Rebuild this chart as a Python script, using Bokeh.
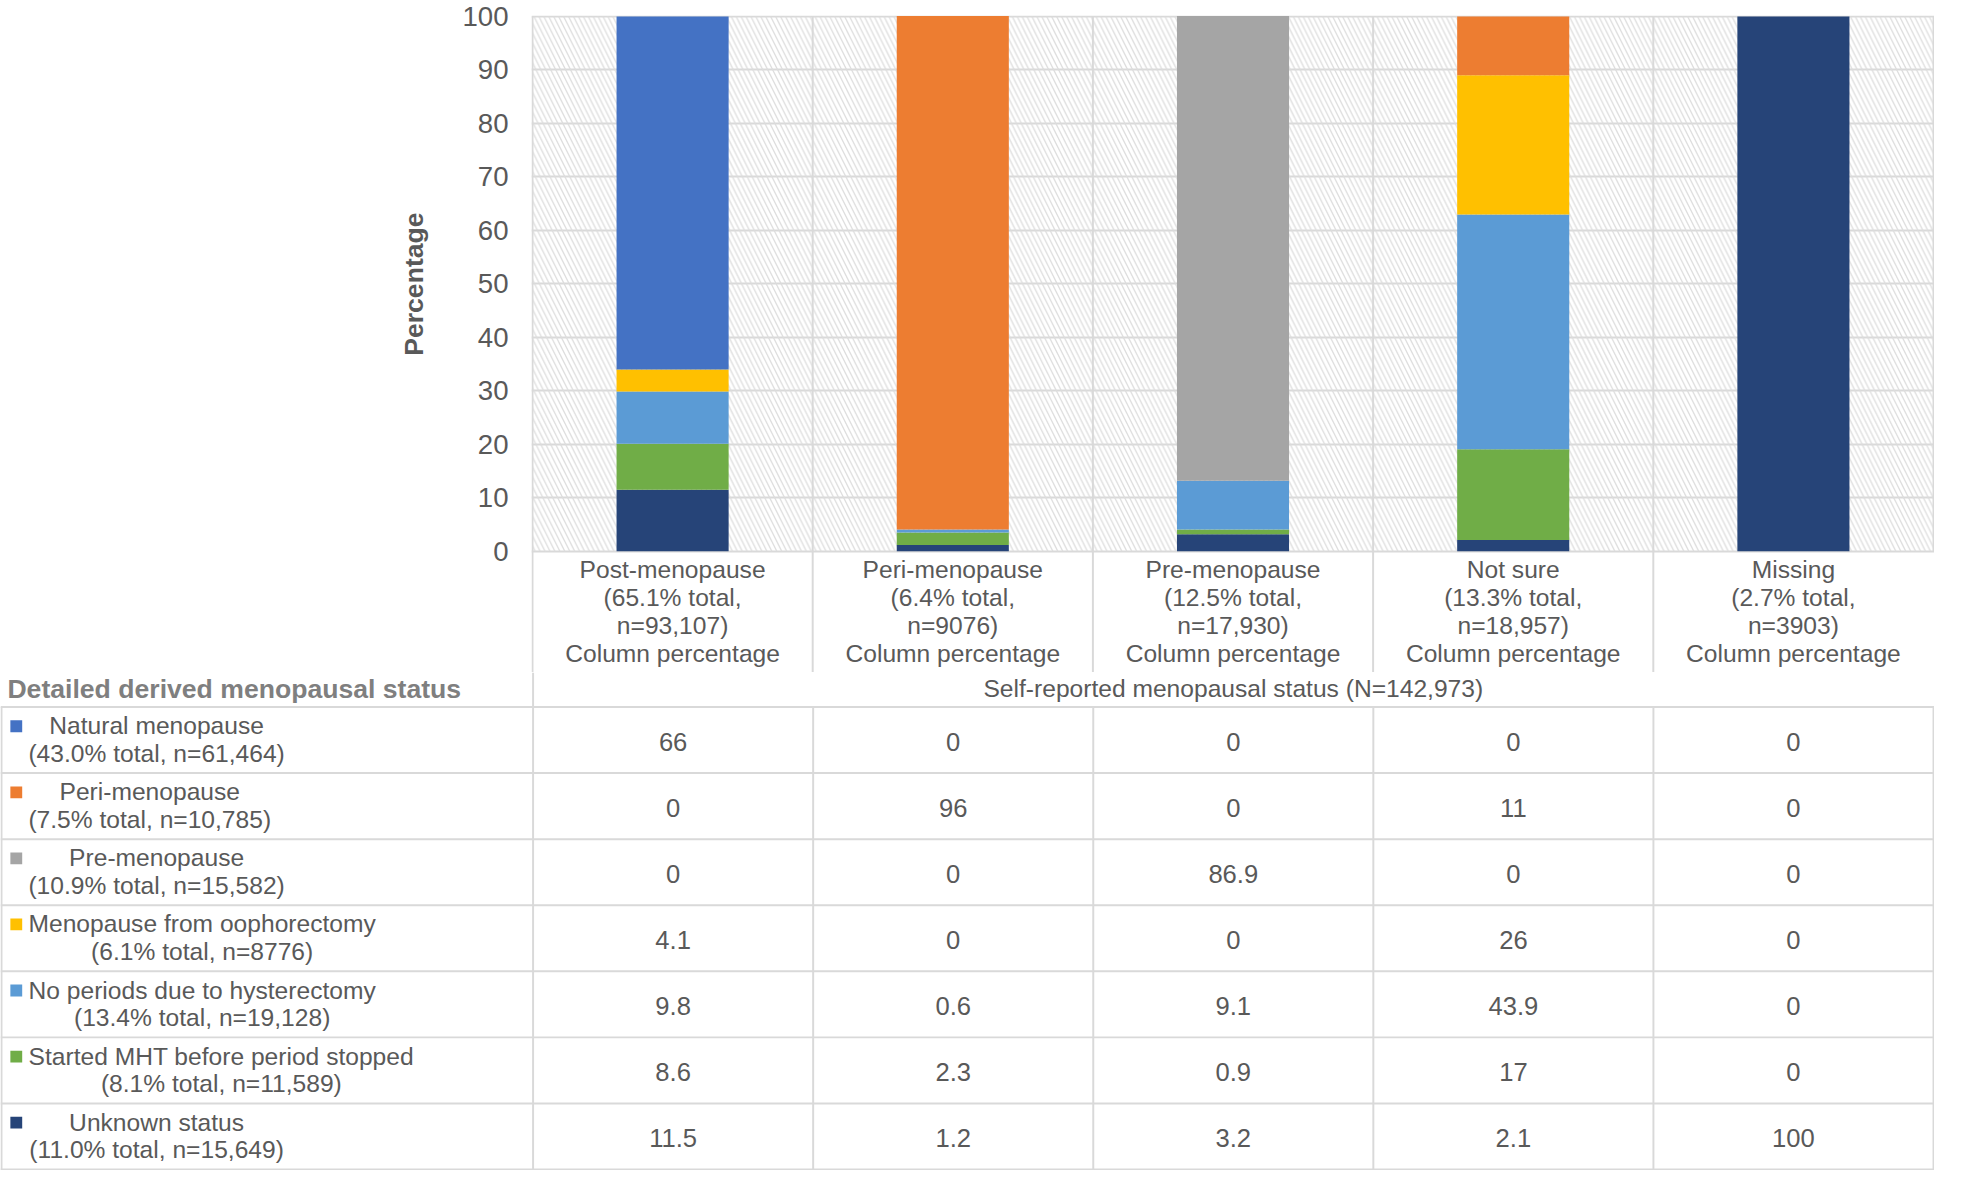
from bokeh.plotting import figure
from bokeh.models import Range1d, FixedTicker, ColumnDataSource, Title
from bokeh.embed import file_html
from bokeh.resources import INLINE
from bokeh.core.properties import value

# ---------------- data ----------------
categories = ["Post-menopause", "Peri-menopause", "Pre-menopause", "Not sure", "Missing"]
category_share = ["65.1%", "6.4%", "12.5%", "13.3%", "2.7%"]
category_n = ["93,107", "9076", "17,930", "18,957", "3903"]
total_n = "142,973"

status_keys = ["natural", "peri", "pre", "oophorectomy", "hysterectomy", "mht", "unknown"]
status_names = ["Natural menopause", "Peri-menopause", "Pre-menopause",
                "Menopause from oophorectomy", "No periods due to hysterectomy",
                "Started MHT before period stopped", "Unknown status"]
status_share = ["43.0%", "7.5%", "10.9%", "6.1%", "13.4%", "8.1%", "11.0%"]
status_n = ["61,464", "10,785", "15,582", "8776", "19,128", "11,589", "15,649"]
status_colors = ["#4472C4", "#ED7D31", "#A5A5A5", "#FFC000", "#5B9BD5", "#70AD47", "#264478"]

natural = [66, 0, 0, 0, 0]
peri = [0, 96, 0, 11, 0]
pre = [0, 0, 86.9, 0, 0]
oophorectomy = [4.1, 0, 0, 26, 0]
hysterectomy = [9.8, 0.6, 9.1, 43.9, 0]
mht = [8.6, 2.3, 0.9, 17, 0]
unknown = [11.5, 1.2, 3.2, 2.1, 100]

y_ticks = [0, 10, 20, 30, 40, 50, 60, 70, 80, 90, 100]
y_title = "Percentage"

series = {"natural": natural, "peri": peri, "pre": pre, "oophorectomy": oophorectomy,
          "hysterectomy": hysterectomy, "mht": mht, "unknown": unknown}
stack_order = ["unknown", "mht", "hysterectomy", "oophorectomy", "pre", "peri", "natural"]
color_of = dict(zip(status_keys, status_colors))

# ---------------- layout constants (reference pixels) ----------------
S = 0.986
FONT_NAME = "Liberation Sans"
FONT = value(FONT_NAME)
TXT = "#595959"
GRID = "#d9d9d9"
LW = 2 * S
CW = 284.0          # column width
X0 = 540.0          # plot left
Y0 = 559.0          # plot bottom (value 0)
TOP = 15.0          # frame top
PPU = 5.43          # px per percentage unit
SPLIT = 682.0       # where the top figure ends
TSHIFT = -8.0       # baseline correction for text glyphs
LBL = 25.0          # table / header label font size
W = round(1961 * S)
HA = round(SPLIT * S)
HT = round(1187 * S)
HB = HT - HA

def fs(v):
    return f"{v * S:.1f}px"

def uy(p):
    return (Y0 - p) / PPU

ARIAL = {
    'a': 556, 'b': 556, 'c': 500, 'd': 556, 'e': 556, 'f': 278, 'g': 556, 'h': 556, 'i': 222,
    'j': 222, 'k': 500, 'l': 222, 'm': 833, 'n': 556, 'o': 556, 'p': 556, 'q': 556, 'r': 333,
    's': 500, 't': 278, 'u': 556, 'v': 500, 'w': 722, 'x': 500, 'y': 500, 'z': 500,
    'M': 833, 'N': 722, 'P': 667, 'H': 722, 'T': 611, 'S': 667, 'U': 722,
    ' ': 278, '(': 333, ')': 333, ',': 278, '.': 278, '%': 889, '=': 584, '-': 333,
}
ARIAL_BOLD = {'P': 667, 'e': 556, 'r': 389, 'c': 556, 'n': 611, 't': 333, 'a': 556, 'g': 611}

def text_width(t, size, table=ARIAL):
    return sum(table.get(c, 556) for c in t) / 1000.0 * size

# ---------------- top figure: stacked bars + column headers ----------------
ncat = len(categories)
ytop = max(y_ticks)
pa = figure(width=W, height=HA,
            x_range=Range1d(-1 / CW, ncat + 1 / CW),
            y_range=Range1d(uy(SPLIT), ytop + 1 / PPU),
            output_backend="svg", toolbar_location=None, x_axis_location=None,
            min_border_left=round(539 * S), min_border_right=0,
            min_border_top=round(TOP * S), min_border_bottom=0)
pa.outline_line_color = None
pa.background_fill_color = "white"
pa.border_fill_color = "white"
pa.xgrid.visible = False
pa.ygrid.ticker = FixedTicker(ticks=y_ticks)
pa.ygrid.grid_line_color = GRID
pa.ygrid.grid_line_width = LW

# hatched plot area background
pa.quad(left=[0], right=[ncat], bottom=[0], top=[ytop], fill_alpha=0, line_color=None,
        hatch_pattern="\\", hatch_color="#dcdcdc", hatch_scale=10 * S, hatch_weight=1.3 * S)

# vertical category separators (plot area + header)
bounds = list(range(ncat + 1))
pa.segment(x0=bounds[:-1], x1=bounds[:-1], y0=[uy(SPLIT)] * ncat, y1=[ytop] * ncat,
           line_color=GRID, line_width=LW)
pa.segment(x0=[bounds[-1]], x1=[bounds[-1]], y0=[0], y1=[ytop], line_color=GRID, line_width=LW)

src = ColumnDataSource(dict(x=[i + 0.5 for i in range(ncat)], **series))
pa.vbar_stack(stack_order, x="x", width=0.4, source=src,
              fill_color=[color_of[k] for k in stack_order], line_color=None)

# category header labels
hx, hy, ht = [], [], []
base = [585.0, 613.7, 642.3, 671.0]
for i, c in enumerate(categories):
    lines = [c, f"({category_share[i]} total,", f"n={category_n[i]})", "Column percentage"]
    for j, l in enumerate(lines):
        hx.append(i + 0.5)
        hy.append(uy(base[j] + TSHIFT))
        ht.append(l)
pa.text(x=hx, y=hy, text=ht, text_font=FONT, text_font_size=fs(LBL), text_color=TXT,
        text_align="center", text_baseline="alphabetic")

ya = pa.yaxis[0]
ya.ticker = FixedTicker(ticks=y_ticks)
ya.axis_line_color = None
ya.major_tick_line_color = None
ya.minor_tick_line_color = None
ya.major_tick_in = 0
ya.major_tick_out = 0
ya.major_label_standoff = round(23 * S)
ya.major_label_text_font = FONT_NAME
ya.major_label_text_font_size = fs(28)
ya.major_label_text_color = TXT
ya.axis_label = None

# y-axis title: a left-side title, centred on the 0-100 plot area
title_len = text_width(y_title, 27 * S, ARIAL_BOLD)
centre_y = (Y0 + 16) / 2 * S
pa.add_layout(Title(text=y_title, align="right", vertical_align="bottom",
                    offset=centre_y - title_len / 2 - TOP * S, standoff=62,
                    text_font=FONT_NAME, text_font_size=fs(27), text_font_style="bold",
                    text_color=TXT), "left")

# ---------------- bottom figure: data table ----------------
def ux(p):
    return (p - X0) / CW

pb = figure(width=W, height=HB,
            x_range=Range1d(ux(0), ux(1961)), y_range=Range1d(1187, SPLIT),
            output_backend="svg", toolbar_location=None,
            x_axis_location=None, y_axis_location=None, min_border=0)
pb.outline_line_color = None
pb.grid.visible = False
pb.background_fill_color = "white"
pb.border_fill_color = "white"

ROW_TOP = 717.0
ROW_H = 67.0
nrows = len(status_names)

pb.segment(x0=[0], x1=[0], y0=[SPLIT], y1=[1187], line_color=GRID, line_width=LW)
row_lines = [ROW_TOP + ROW_H * i for i in range(nrows + 1)]
row_lines[-1] = min(row_lines[-1], 1186)
pb.segment(x0=[ux(0)] * len(row_lines), x1=[ux(1961)] * len(row_lines), y0=row_lines, y1=row_lines,
           line_color=GRID, line_width=LW)
vx = [ux(1)] + bounds[1:]
pb.segment(x0=vx, x1=vx, y0=[ROW_TOP] * len(vx), y1=[1187] * len(vx), line_color=GRID, line_width=LW)

pb.text(x=[ncat / 2], y=[706 + TSHIFT], text=[f"Self-reported menopausal status (N={total_n})"],
        text_font=FONT, text_font_size=fs(LBL), text_color=TXT,
        text_align="center", text_baseline="alphabetic")
pb.text(x=[ux(7)], y=[706.5 + TSHIFT], text=["Detailed derived menopausal status"],
        text_font=FONT, text_font_size=fs(27), text_font_style="bold", text_color="#7f7f7f",
        text_align="left", text_baseline="alphabetic")

# row labels with legend keys
lx, ly, lt = [], [], []
kx, ky, kc = [], [], []
for r in range(nrows):
    top = ROW_TOP + ROW_H * r
    l1 = status_names[r]
    l2 = f"({status_share[r]} total, n={status_n[r]})"
    cx = 28 + max(text_width(l1, LBL), text_width(l2, LBL)) / 2
    lx += [ux(cx), ux(cx)]
    ly += [top + 27 + TSHIFT, top + 55 + TSHIFT]
    lt += [l1, l2]
    kx.append(ux(16))
    ky.append(top + 19.5)
    kc.append(status_colors[r])
pb.scatter(x=kx, y=ky, marker="square", size=12 * S, fill_color=kc, line_color=None)
pb.text(x=lx, y=ly, text=lt, text_font=FONT, text_font_size=fs(LBL), text_color=TXT,
        text_align="center", text_baseline="alphabetic")

# cell values
vx_, vy_, vt_ = [], [], []
for r, key in enumerate(status_keys):
    for c in range(ncat):
        vx_.append(c + 0.5)
        vy_.append(ROW_TOP + ROW_H * r + 43 + TSHIFT)
        vt_.append(f"{series[key][c]:g}")
pb.text(x=vx_, y=vy_, text=vt_, text_font=FONT, text_font_size=fs(26), text_color=TXT,
        text_align="center", text_baseline="alphabetic")

open("out.html", "w").write(file_html([pa, pb], INLINE))
